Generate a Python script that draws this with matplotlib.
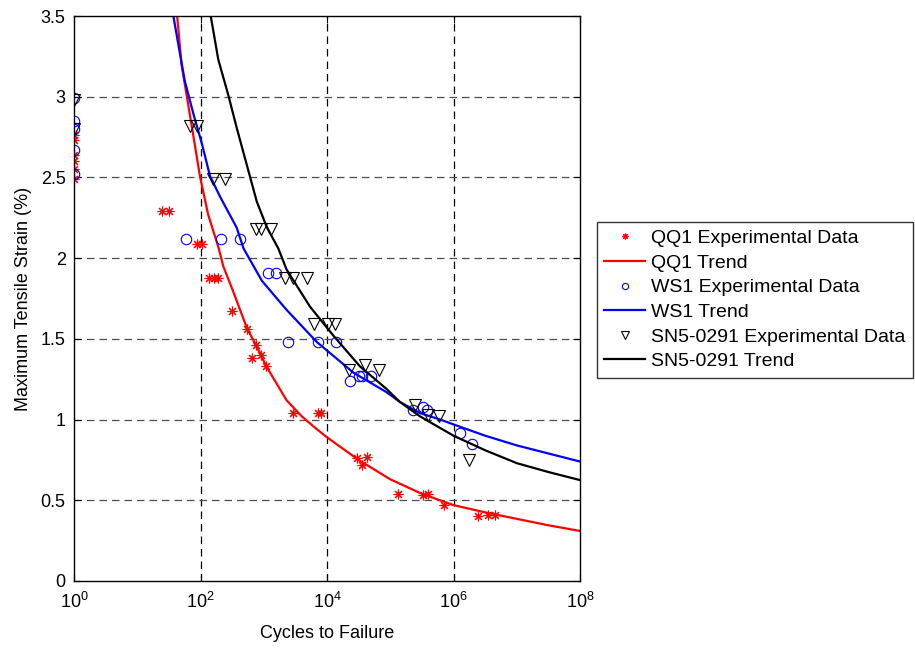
import matplotlib
matplotlib.use("Agg")
import matplotlib.pyplot as plt
from matplotlib.ticker import FixedLocator, NullLocator

plt.rcParams['font.family'] = ['Liberation Sans', 'DejaVu Sans']
plt.rcParams['mathtext.fontset'] = 'custom'
plt.rcParams['mathtext.rm'] = 'Liberation Sans'
plt.rcParams['mathtext.it'] = 'Liberation Sans:italic'
plt.rcParams['mathtext.bf'] = 'Liberation Sans:bold'

# ---------------- data ----------------
qq1_cycles = [1, 1, 1, 1, 1, 1, 25, 32, 89, 107, 138, 166, 190, 309, 550, 760,
              910, 660, 1100, 2950, 7100, 8100, 30000, 43000, 35500, 132000,
              330000, 390000, 710000, 2450000, 3550000, 4570000]
qq1_strain = [2.76, 2.73, 2.64, 2.60, 2.55, 2.49, 2.29, 2.29, 2.09, 2.09, 1.88,
              1.88, 1.88, 1.67, 1.56, 1.46, 1.40, 1.38, 1.33, 1.04, 1.04, 1.04,
              0.76, 0.77, 0.72, 0.54, 0.53, 0.54, 0.47, 0.40, 0.41, 0.41]

ws1_cycles = [1, 1, 1, 1, 1, 58, 214, 427, 1150, 1580, 2450, 7100, 14100, 23400,
              31600, 36300, 49000, 229000, 331000, 380000, 1260000, 1950000]
ws1_strain = [2.99, 2.85, 2.80, 2.67, 2.52, 2.12, 2.12, 2.12, 1.91, 1.91, 1.48,
              1.48, 1.48, 1.24, 1.27, 1.27, 1.27, 1.06, 1.08, 1.06, 0.915, 0.85]

sn5_cycles = [1, 1, 69, 89, 158, 240, 741, 912, 1320, 2190, 2950, 4790, 6310,
              10200, 13200, 21900, 39800, 66100, 245000, 398000, 589000, 1740000]
sn5_strain = [2.98, 2.80, 2.82, 2.82, 2.49, 2.49, 2.18, 2.18, 2.18, 1.88, 1.88,
              1.88, 1.59, 1.59, 1.59, 1.31, 1.34, 1.31, 1.09, 1.03, 1.02, 0.75]

# trend curves
qq1_trend_cycles = [42.7, 50.1, 60.3, 77.6, 97.7, 132, 191, 229, 331, 550, 759,
                    1096, 2291, 3981, 6918, 1e4, 31600, 1e5, 316000, 1e6,
                    3162000, 1e7, 31620000, 1e8]
qq1_trend_strain = [3.5, 3.20, 3.01, 2.75, 2.51, 2.27, 2.07, 1.95, 1.79, 1.56,
                    1.46, 1.33, 1.12, 1.02, 0.94, 0.89, 0.75, 0.63, 0.54, 0.47,
                    0.425, 0.385, 0.345, 0.31]

ws1_trend_cycles = [37.2, 56.2, 77.6, 105, 141, 204, 372, 479, 933, 2291, 6918,
                    26300, 87100, 141000, 295000, 617000, 1e6, 3162000, 1e7,
                    31620000, 1e8]
ws1_trend_strain = [3.5, 3.10, 2.89, 2.71, 2.51, 2.38, 2.19, 2.06, 1.86, 1.68,
                    1.48, 1.29, 1.17, 1.11, 1.04, 1.00, 0.97, 0.90, 0.84, 0.79,
                    0.74]

sn5_trend_cycles = [145, 191, 275, 372, 537, 776, 1122, 1698, 2291, 5370, 12600,
                    33100, 87100, 141000, 295000, 1e6, 3162000, 1e7, 31620000,
                    1e8]
sn5_trend_strain = [3.5, 3.23, 3.01, 2.81, 2.58, 2.35, 2.19, 2.06, 1.93, 1.70,
                    1.52, 1.33, 1.19, 1.11, 1.02, 0.90, 0.81, 0.73, 0.675,
                    0.625]

x_ticks = [1, 1e2, 1e4, 1e6, 1e8]
x_ticklabels = [r'$10^{0}$', r'$10^{2}$', r'$10^{4}$', r'$10^{6}$', r'$10^{8}$']
y_ticks = [0, 0.5, 1, 1.5, 2, 2.5, 3, 3.5]
y_ticklabels = ['0', '0.5', '1', '1.5', '2', '2.5', '3', '3.5']

# ---------------- figure ----------------
fig = plt.figure(figsize=(9.15, 6.49), dpi=100)
ax = fig.add_axes([0.0809, 0.1048, 0.5530, 0.8705])

asterisk = (8, 2, 0)
ax.plot(qq1_cycles, qq1_strain, linestyle='none', marker=asterisk, color='red',
        markersize=7, markeredgewidth=0.8, label='QQ1 Experimental Data')
ax.plot(qq1_trend_cycles, qq1_trend_strain, color='red', linewidth=1.6,
        solid_joinstyle='round', label='QQ1 Trend')
ax.plot(ws1_cycles, ws1_strain, linestyle='none', marker='o', markerfacecolor='none',
        markeredgecolor='blue', markersize=7.5, markeredgewidth=0.8,
        label='WS1 Experimental Data')
ax.plot(ws1_trend_cycles, ws1_trend_strain, color='blue', linewidth=1.6,
        solid_joinstyle='round', label='WS1 Trend')
ax.plot(sn5_cycles, sn5_strain, linestyle='none', marker='v', markerfacecolor='none',
        markeredgecolor='black', markersize=8.5, markeredgewidth=0.8,
        label='SN5-0291 Experimental Data')
ax.plot(sn5_trend_cycles, sn5_trend_strain, color='black', linewidth=1.6,
        solid_joinstyle='round', label='SN5-0291 Trend')

ax.set_xscale('log')
ax.set_xlim(1, 1e8)
ax.set_ylim(0, 3.5)
ax.xaxis.set_major_locator(FixedLocator(x_ticks))
ax.xaxis.set_minor_locator(NullLocator())
ax.set_xticklabels(x_ticklabels)
ax.set_yticks(y_ticks)
ax.set_yticklabels(y_ticklabels)

ax.tick_params(direction='in', top=True, right=True, labelsize=13, length=5,
               width=0.8, pad=6)
ax.tick_params(axis='x', pad=8)

for v in x_ticks[1:-1]:
    ax.axvline(v, color='black', linestyle=(0, (6, 4)), linewidth=0.9, zorder=0)
for v in y_ticks[1:-1]:
    ax.axhline(v, color='0.3', linestyle=(0, (6, 4)), linewidth=0.9, zorder=0)

for s in ax.spines.values():
    s.set_linewidth(1.0)

ax.set_xlabel('Cycles to Failure', fontsize=13, labelpad=9)
ax.set_ylabel('Maximum Tensile Strain (%)', fontsize=13, labelpad=6)

leg = ax.legend(loc='upper left', bbox_to_anchor=(1.0336, 0.635), fontsize=14,
                frameon=True, fancybox=False, edgecolor='black', markerscale=0.6,
                handlelength=2.1, handletextpad=0.3, borderpad=0.38,
                labelspacing=0.36, borderaxespad=0)
leg.get_frame().set_linewidth(1.0)

fig.savefig('out.png', dpi=100)
